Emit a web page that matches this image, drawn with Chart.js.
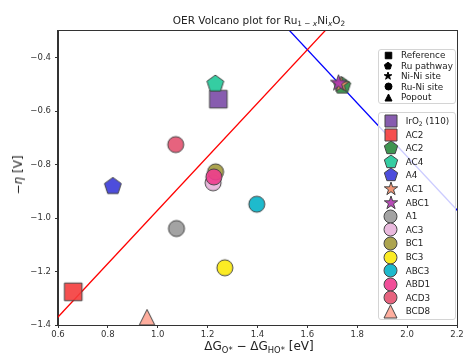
<!DOCTYPE html>
<html lang="en">
<head>
<meta charset="UTF-8">
<title>OER Volcano plot</title>
<script src="https://cdn.jsdelivr.net/npm/chart.js"></script>
<style>
  body { margin: 0; background: #fff; font-family: "DejaVu Sans", sans-serif; color: #222; }
  #wrap { position: relative; width: 466px; height: 356px; overflow: hidden; }
  #volcano { position: absolute; left: 0; top: 0; }
  .txt { position: absolute; white-space: nowrap; line-height: 1; }
  sub { font-size: 70%; vertical-align: -0.3em; line-height: 0; }
  #title { left: 259px; top: 15px; font-size: 10.5px; transform: translateX(-50%); }
  #xlabel { left: 259px; top: 340px; font-size: 12px; transform: translateX(-50%); }
  #ylabel { left: 18px; top: 175px; font-size: 12px; transform: translate(-50%, -50%) rotate(-90deg); }
  .lbox { position: absolute; box-sizing: border-box; border: 1px solid #d4d4d4; border-radius: 3px; background: rgba(255,255,255,0.8); }
  .lrow { position: absolute; font-size: 8.8px; line-height: 10px; white-space: nowrap; }
  .lmark { position: absolute; }
</style>
</head>
<body>
<div id="wrap">
  <canvas id="volcano" width="466" height="356"></canvas>
  <div id="title" class="txt">OER Volcano plot for Ru<sub>1 − <i>x</i></sub>Ni<sub><i>x</i></sub>O<sub>2</sub></div>
  <div id="xlabel" class="txt">ΔG<sub>O*</sub> − ΔG<sub>HO*</sub> [eV]</div>
  <div id="ylabel" class="txt">−<i>η</i> [V]</div>
  <div class="lbox" style="left:378px; top:49px; width:78px; height:55px;"></div>
  <div class="lbox" style="left:378px; top:112px; width:78px; height:208px;"></div>
</div>

<script>
  // data
  const names  = ['IrO2 (110)', 'AC2', 'AC2', 'AC4', 'A4', 'AC1', 'ABC1', 'A1', 'AC3', 'BC1', 'BC3', 'ABC3', 'ABD1', 'ACD3', 'BCD8'];
  const gapX   = [1.243, 0.661, 1.740, 1.231, 0.820, 1.735, 1.725, 1.075, 1.222, 1.232, 1.269, 1.397, 1.225, 1.072, 0.957];
  const etaY   = [-0.555, -1.276, -0.505, -0.498, -0.881, -0.500, -0.495, -1.039, -0.868, -0.827, -1.186, -0.948, -0.846, -0.725, -1.371];
  const shapes = ['square', 'square', 'pentagon', 'pentagon', 'pentagon', 'star', 'star', 'circle', 'circle', 'circle', 'circle', 'circle', 'circle', 'circle', 'triangle'];
  const colors = ['#7a4aa6', '#f43c3c', '#2a8a3e', '#1fc898', '#3a3ad8', '#f08a66', '#b036b0', '#999999', '#e8b2da', '#a39a3c', '#fbe90c', '#05b3c8', '#f03c8e', '#e35270', '#ffa593'];

  const keyNames  = ['Reference', 'Ru pathway', 'Ni-Ni site', 'Ru-Ni site', 'Popout'];
  const keyShapes = ['square', 'pentagon', 'star', 'circle', 'triangle'];

  const xTicks = [0.6, 0.8, 1.0, 1.2, 1.4, 1.6, 1.8, 2.0, 2.2];
  const yTicks = [-1.4, -1.2, -1.0, -0.8, -0.6, -0.4];

  // scaling lines (endpoints, clipped by the axes)
  const redLineX  = [0.5, 1.75];
  const redLineY  = [-1.47, -0.22];
  const blueLineX = [1.45, 2.3];
  const blueLineY = [-0.22, -1.07];

  const plotSize = { square: 17.6, pentagon: 17.7, star: 17, circle: 16, triangle: 15.5 };
  const keySize  = { square: 12, pentagon: 14, star: 14, circle: 13, triangle: 13 };
  const topSize  = { square: 6.5, pentagon: 7.5, star: 8, circle: 7, triangle: 7 };

  function marker(shape, size, fill, edge, alpha) {
    const pad = 2;
    const d = Math.ceil(size + 2 * pad);
    const c = document.createElement('canvas');
    c.width = d; c.height = d;
    const g = c.getContext('2d');
    const cx = d / 2, cy = d / 2, r = size / 2;
    g.beginPath();
    if (shape === 'square') {
      g.rect(cx - r, cy - r, size, size);
    } else if (shape === 'circle') {
      g.arc(cx, cy, r, 0, Math.PI * 2);
    } else if (shape === 'pentagon') {
      for (let k = 0; k < 5; k++) {
        const a = -Math.PI / 2 + k * 2 * Math.PI / 5;
        g.lineTo(cx + r * Math.cos(a), cy + r * Math.sin(a));
      }
    } else if (shape === 'star') {
      for (let k = 0; k < 10; k++) {
        const rr = k % 2 ? r * 0.382 : r;
        const a = -Math.PI / 2 + k * Math.PI / 5;
        g.lineTo(cx + rr * Math.cos(a), cy + rr * Math.sin(a));
      }
    } else if (shape === 'triangle') {
      g.moveTo(cx, cy - r);
      g.lineTo(cx - r, cy + r);
      g.lineTo(cx + r, cy + r);
    }
    g.closePath();
    g.globalAlpha = alpha;
    g.fillStyle = fill;
    g.fill();
    g.globalAlpha = 1;
    g.strokeStyle = edge;
    g.lineWidth = 1;
    g.stroke();
    return c;
  }

  const fmt = v => v.toFixed(1).replace('-', '\u2212');

  const datasets = [
    {
      data: redLineX.map((x, i) => ({ x: x, y: redLineY[i] })),
      showLine: true, pointRadius: 0, borderColor: '#ff0000', borderWidth: 1.3, order: 100
    },
    {
      data: blueLineX.map((x, i) => ({ x: x, y: blueLineY[i] })),
      showLine: true, pointRadius: 0, borderColor: '#0000ff', borderWidth: 1.3, order: 100
    }
  ];
  names.forEach((n, i) => {
    datasets.push({
      label: n,
      data: [{ x: gapX[i], y: etaY[i] }],
      pointStyle: marker(shapes[i], plotSize[shapes[i]], colors[i], '#444', 0.9),
      pointRadius: 8,
      order: 50 - i
    });
  });

  // full box around the axes, like matplotlib spines
  const frame = {
    id: 'frame',
    afterDatasetsDraw(chart) {
      const a = chart.chartArea, ctx = chart.ctx;
      ctx.save();
      ctx.strokeStyle = '#333';
      ctx.lineWidth = 1;
      ctx.strokeRect(Math.round(a.left) - 0.5, Math.round(a.top) - 0.5, Math.round(a.right - a.left) + 1, Math.round(a.bottom - a.top) + 1);
      ctx.restore();
    }
  };

  new Chart(document.getElementById('volcano'), {
    type: 'scatter',
    data: { datasets: datasets },
    plugins: [frame],
    options: {
      responsive: false,
      animation: false,
      layout: { padding: { left: 0, right: 6, top: 31, bottom: 0 } },
      plugins: { legend: { display: false }, tooltip: { enabled: false } },
      scales: {
        x: {
          type: 'linear', min: 0.6, max: 2.2,
          afterBuildTicks: s => { s.ticks = xTicks.map(v => ({ value: v })); },
          afterFit: s => { s.height = 31; },
          ticks: { callback: v => fmt(v), color: '#333', padding: 2, maxRotation: 0, autoSkip: false,
                   font: { family: 'DejaVu Sans', size: 8.5 } },
          grid: { drawOnChartArea: false, tickLength: 3, color: '#333' },
          border: { color: '#333' }
        },
        y: {
          type: 'linear', min: -1.4, max: -0.3,
          afterBuildTicks: s => { s.ticks = yTicks.map(v => ({ value: v })); },
          afterFit: s => { s.width = 58; },
          ticks: { callback: v => fmt(v), color: '#333', padding: 4, autoSkip: false,
                   font: { family: 'DejaVu Sans', size: 8.5 } },
          grid: { drawOnChartArea: false, tickLength: 3, color: '#333' },
          border: { color: '#333' }
        }
      }
    }
  });

  // legends
  const wrap = document.getElementById('wrap');
  function addRow(shape, size, fill, edge, alpha, label, mx, tx, cy) {
    const m = marker(shape, size, fill, edge, alpha);
    m.className = 'lmark';
    m.style.left = (mx - m.width / 2) + 'px';
    m.style.top = (cy - m.height / 2) + 'px';
    wrap.appendChild(m);
    const t = document.createElement('div');
    t.className = 'lrow';
    t.style.left = tx + 'px';
    t.style.top = (cy - 5) + 'px';
    t.innerHTML = label.replace('O2', 'O<sub>2</sub>');
    wrap.appendChild(t);
  }
  keyNames.forEach((n, i) => {
    addRow(keyShapes[i], topSize[keyShapes[i]], '#000', '#000', 1, n, 388, 401, 55 + i * 10.5);
  });
  names.forEach((n, i) => {
    addRow(shapes[i], keySize[shapes[i]], colors[i], '#444', 0.9, n, 390.7, 405.7, 121 + i * 13.6);
  });
</script>
</body>
</html>
